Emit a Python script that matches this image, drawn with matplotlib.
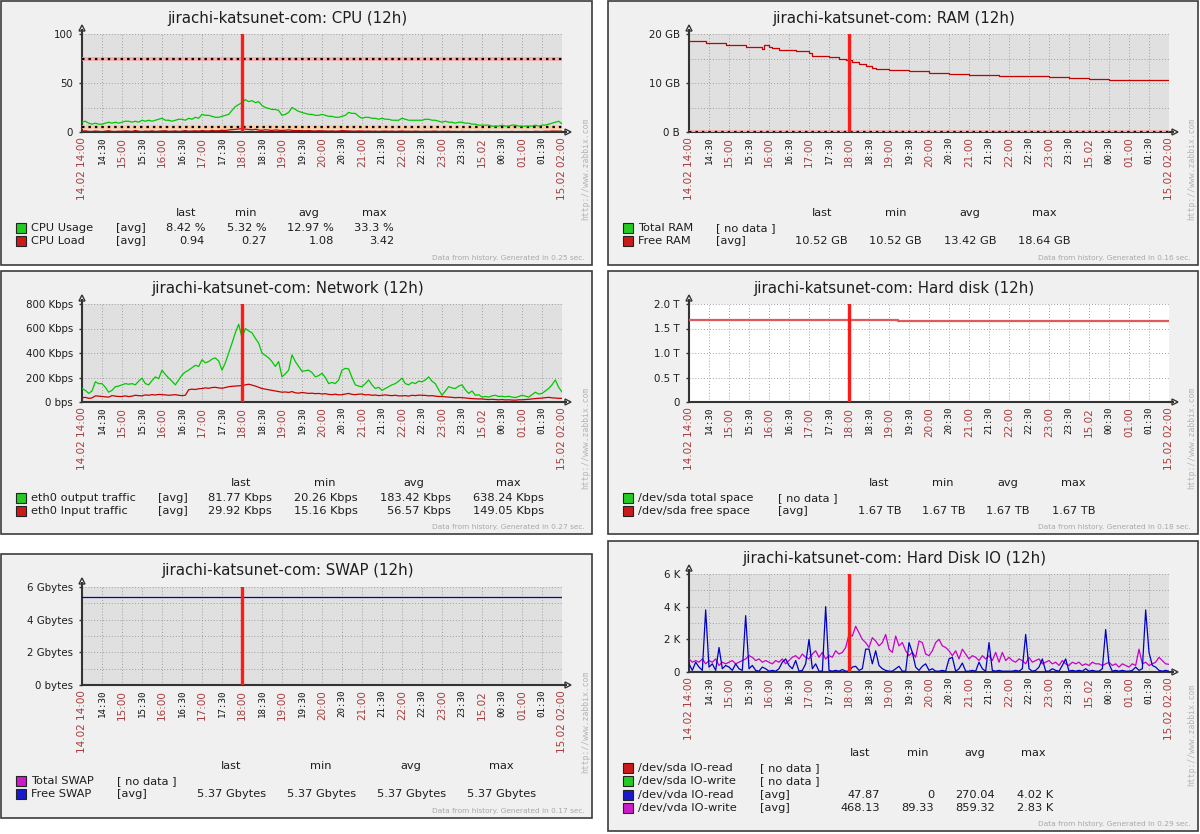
import numpy as np
import matplotlib
matplotlib.use("Agg")
import matplotlib.pyplot as plt
from matplotlib.patches import Rectangle, Polygon

W, H = 1200, 834
HOST = "jirachi-katsunet-com"

# ---------------- data ----------------
tick_labels = ["14.02 14:00", "14:30", "15:00", "15:30", "16:00", "16:30", "17:00", "17:30",
               "18:00", "18:30", "19:00", "19:30", "20:00", "20:30", "21:00", "21:30",
               "22:00", "22:30", "23:00", "23:30", "15.02", "00:30", "01:00", "01:30",
               "15.02 02:00"]
marker_time = "18:00"

# CPU (5-minute samples, 14:00 -> 02:00)
cpu_usage = [10, 11, 9, 8, 9, 8, 8, 9, 10, 9, 10, 9,
             10, 11, 11, 10, 11, 10, 12, 11, 12, 11, 12, 13,
             14, 12, 12, 11, 12, 13, 13, 12, 14, 13, 15, 14,
             18, 17, 17, 16, 15, 15, 16, 17, 18, 22, 26, 28,
             30, 33, 31, 32, 30, 31, 27, 25, 24, 23, 23, 22,
             17, 18, 20, 25, 23, 21, 20, 19, 18, 18, 17, 17,
             18, 17, 16, 16, 15, 15, 16, 17, 20, 19, 19, 16,
             14, 15, 15, 14, 14, 13, 14, 13, 13, 12, 12, 12,
             14, 13, 12, 12, 12, 12, 12, 13, 13, 12, 12, 11,
             10, 11, 10, 10, 9, 10, 10, 9, 9, 8, 8, 7,
             7, 7, 7, 6, 6, 6, 7, 6, 6, 7, 7, 6,
             6, 6, 6, 6, 7, 6, 7, 7, 8, 9, 10, 11,
             8.42]
cpu_load = [0.8, 1.2, 0.6, 0.5, 1.0, 0.7, 0.4, 0.9, 1.3, 0.6, 0.5, 0.8,
            0.7, 1.1, 0.9, 0.6, 1.5, 0.8, 0.5, 0.9, 0.7, 1.2, 0.6, 0.8,
            0.9, 1.3, 0.7, 0.8, 1.1, 0.6, 0.9, 1.4, 0.8, 1.0, 1.2, 0.9,
            1.4, 1.1, 1.0, 1.6, 1.2, 1.3, 1.8, 1.5, 2.1, 2.4, 2.6, 3.0,
            3.42, 2.9, 2.5, 2.2, 2.8, 2.0, 1.7, 2.3, 1.9, 1.6, 2.1, 1.8,
            1.5, 1.9, 2.2, 1.7, 1.4, 1.6, 1.3, 1.2, 1.5, 1.1, 1.0, 1.3,
            1.2, 1.0, 0.9, 1.1, 0.8, 1.0, 1.4, 1.2, 1.0, 0.9, 0.8, 1.1,
            0.9, 0.8, 1.0, 0.7, 0.9, 0.6, 0.8, 1.0, 0.7, 0.9, 0.6, 0.8,
            1.0, 0.7, 0.8, 0.6, 0.9, 0.7, 0.5, 0.8, 0.6, 0.7, 0.9, 0.5,
            0.7, 0.6, 0.8, 0.5, 0.6, 0.4, 0.7, 0.5, 0.6, 0.4, 0.5, 0.6,
            0.5, 0.4, 0.6, 0.3, 0.5, 0.4, 0.27, 0.5, 0.4, 0.6, 0.3, 0.5,
            0.4, 0.6, 0.5, 0.3, 0.7, 0.5, 0.4, 0.8, 0.6, 1.0, 0.9, 0.8,
            0.94]
cpu_triggers = [74, 5]

# RAM (GB, step changes)
ram_times = ["14:00", "14:25", "14:55", "15:25", "15:50", "15:53", "16:00", "16:05", "16:15",
             "16:40", "17:00", "17:05", "17:30", "17:45", "17:55", "18:05", "18:15", "18:25",
             "18:35", "18:40", "19:00", "19:30", "20:00", "20:30", "21:00", "21:45", "22:30",
             "23:00", "23:30", "00:00", "00:30", "01:15", "02:00"]
ram_free = [18.64, 18.21, 17.78, 17.34, 17.02, 17.67, 17.40, 17.13, 16.69,
            16.48, 16.15, 15.50, 15.29, 14.96, 14.70, 14.35, 13.88, 13.50,
            13.15, 12.90, 12.69, 12.47, 12.14, 11.93, 11.71, 11.49, 11.39,
            11.17, 10.95, 10.84, 10.63, 10.52, 10.52]

# Network (Kbps, 5-minute samples)
net_out = [110, 95, 70, 90, 165, 150, 150, 120, 80, 95, 125, 130,
           140, 150, 145, 150, 140, 170, 195, 150, 140, 175, 205, 190,
           260, 225, 195, 170, 140, 180, 220, 245, 260, 280, 300, 290,
           345, 320, 330, 350, 360, 335, 260, 320, 400, 480, 565, 635,
           525, 600, 580, 565, 520, 480, 400, 380, 360, 330, 290, 330,
           205, 230, 260, 385, 330, 290, 250, 255, 260, 240, 205, 215,
           235, 200, 150, 160, 150, 180, 260, 275, 270, 200, 140, 130,
           125, 150, 180, 140, 110, 120, 95, 110, 125, 140, 150, 170,
           195, 150, 140, 160, 150, 170, 165, 180, 205, 170, 150, 100,
           55, 90, 125, 115, 110, 130, 140, 100, 70, 90, 55, 60,
           40, 45, 40, 50, 55, 45, 47, 42, 47, 40, 36, 45,
           55, 48, 40, 60, 80, 65, 70, 90, 110, 140, 180, 120,
           82]
net_in = [35, 38, 30, 33, 50, 48, 45, 42, 40, 52, 48, 45,
          45, 50, 44, 48, 55, 52, 50, 58, 55, 60, 57, 62,
          60, 58, 55, 57, 60, 55, 52, 55, 100, 105, 102, 108,
          110, 115, 112, 118, 120, 115, 112, 118, 125, 128, 130, 132,
          135, 140, 145, 138, 130, 120, 110, 105, 100, 95, 90, 85,
          80, 82, 78, 85, 75, 72, 78, 74, 70, 72, 68, 70,
          65, 68, 62, 60, 64, 58, 60, 65, 70, 62, 60, 64,
          65, 58, 60, 55, 57, 52, 55, 58, 54, 52, 55, 50,
          50, 52, 48, 55, 52, 56, 55, 54, 50, 52, 48, 45,
          45, 42, 40, 38, 35, 37, 35, 33, 30, 28, 26, 25,
          25, 22, 20, 22, 20, 18, 20, 17, 18, 16, 15, 18,
          18, 20, 22, 25, 28, 30, 32, 35, 38, 34, 32, 30,
          30]

# Hard disk free space (T)
disk_times = ["14:00", "19:13", "02:00"]
disk_free = [1.675, 1.66, 1.66]

# SWAP free (Gbytes)
swap_times = ["14:00", "02:00"]
swap_free = [5.37, 5.37]

# Disk IO (K, 5-minute samples)
io_read = [0.5, 0.1, 0.6, 0.3, 0.1, 3.8, 0.3, 0.5, 0.1, 1.5, 0.2, 0.4,
           0.3, 0.1, 0.5, 0.2, 0.1, 3.45, 0.2, 0.4, 0.1, 0.05, 0.3, 0.2,
           0.05, 0.1, 0.05, 0.2, 0.6, 0.8, 0.4, 0.2, 0.7, 0.05, 0.1, 0.5,
           2.0, 0.2, 0.5, 0.05, 0.05, 4.0, 0.1, 0.05, 0.1, 0.05, 0.15, 0.05,
           0.05, 0.3, 0.35, 0.1, 0.2, 1.4, 1.4, 0.5, 1.3, 0.4, 0.2, 0.1,
           0.05, 0.05, 0.2, 0.35, 0.05, 0.05, 1.8, 1.2, 0.3, 0.1, 0.35, 0.5,
           0.1, 0.2, 0.05, 0.05, 0.1, 0.05, 0.8, 0.9, 0.05, 0.2, 0.55, 0.05,
           0.05, 0.1, 0.05, 0.6, 0.2, 0.05, 1.8, 0.1, 0.05, 0.1, 0.05, 0.05,
           0.05, 0.05, 0.1, 0.05, 0.2, 2.3, 0.2, 0.05, 0.1, 0.3, 0.8, 0.05,
           0.05, 0.2, 0.1, 0.05, 0.4, 0.8, 0.05, 0.1, 0.05, 0.1, 0.05, 0.2,
           0.05, 0.1, 0.05, 0.05, 0.2, 2.6, 0.5, 0.05, 0.1, 0.05, 0.1, 0.05,
           0.05, 0.1, 0.3, 0.1, 0.2, 3.8, 1.2, 0.4, 0.3, 0.1, 0.05, 0.1,
           0.05]
io_write = [0.8, 0.6, 0.7, 0.6, 0.8, 0.5, 0.7, 0.6, 0.8, 0.4, 0.6, 0.5,
            0.6, 0.7, 0.5, 0.6, 0.7, 0.8, 1.0, 0.9, 0.7, 0.8, 0.6, 0.7,
            0.6, 0.5, 0.7, 0.6, 0.8, 0.5, 0.7, 0.9, 1.0, 0.8, 1.1, 0.9,
            0.8, 1.1, 1.3, 0.9, 1.2, 0.8, 1.0, 0.9, 1.3, 1.1, 1.2, 1.5,
            2.3, 2.2, 2.8, 2.4, 2.0, 1.8, 1.5, 2.1, 1.9, 1.6, 1.8, 2.3,
            1.4, 1.2, 2.2, 1.6, 1.8, 1.3, 1.0, 1.2, 0.9, 1.9, 1.8, 1.1,
            1.0, 1.3, 1.8, 2.0, 1.6, 1.5, 1.3, 1.0, 1.3, 0.8, 1.4, 1.1,
            0.8, 1.0, 0.9, 0.7, 1.0, 0.8, 1.0, 0.7, 1.2, 0.6, 1.2, 0.7,
            0.9, 0.7, 0.6, 0.8, 0.7, 0.5, 0.9, 0.6, 0.7, 0.8, 0.5, 0.6,
            0.7, 0.5, 0.6, 0.4, 0.7, 0.5, 0.4, 0.6, 0.5, 0.6, 0.4, 0.5,
            0.4, 0.6, 0.5, 0.5, 0.4, 0.5, 0.6, 0.4, 0.5, 0.3, 0.5, 0.4,
            0.3, 0.5, 0.4, 1.4, 0.5, 0.6, 0.4, 0.5, 0.6, 0.9, 0.7, 0.5,
            0.47]

# ---------------- styling ----------------
GREEN, RED, BLUE, MAGENTA = "#00c800", "#c80000", "#0000c8", "#c800c8"
SQ_GREEN, SQ_RED, SQ_BLUE, SQ_MAG = "#22cc22", "#cc1a1a", "#1a1acc", "#cc1acc"
HOUR_RED = "#a83c3c"
TXT = "#1e1e1e"
PLOT_BG = "#e0e0e0"
PANEL_BG = "#f0f0f0"


def hours(hhmm):
    hh, mm = hhmm.split(":")
    return (int(hh) - 14) % 24 + int(mm) / 60.0


def five_min(series):
    return np.arange(len(series)) / 12.0


fig = plt.figure(figsize=(W / 100, H / 100), dpi=100)
fig.patch.set_facecolor("white")
ov = fig.add_axes([0, 0, 1, 1])
ov.set_xlim(0, W)
ov.set_ylim(H, 0)
ov.axis("off")
ov.set_zorder(0)


def panel(l, t, r, b, title, gen):
    ov.add_patch(Rectangle((l, t), r - l, b - t, facecolor=PANEL_BG,
                           edgecolor="#3c3c3c", lw=1.2))
    ov.text((l + r) / 2 - 9, t + 17, f"{HOST}: {title} (12h)", ha="center", va="center",
            fontsize=10.8, color=TXT)
    ov.text(r - 7, b - 7, f"Data from history. Generated in {gen} sec.", ha="right",
            va="center", fontsize=5.3, color="#a8a8a8")
    ov.text(r - 6, b - 45, "http://www.zabbix.com", rotation=90, ha="center", va="bottom",
            fontsize=5.8, color="#b4b4b4", family="DejaVu Sans Mono")
    # plot axes
    px0, py0 = l + 81, t + 33
    ax = fig.add_axes([px0 / W, 1 - (py0 + 98) / H, 480 / W, 98 / H])
    ax.set_zorder(2)
    ax.set_xlim(0, 12)
    for s in ("top", "right"):
        ax.spines[s].set_visible(False)
    for s in ("left", "bottom"):
        ax.spines[s].set_color("#333333")
        ax.spines[s].set_linewidth(1.5)
    # axis arrows
    ov.plot([px0, px0], [py0, py0 - 4], color="#333333", lw=1.5)
    ov.add_patch(Polygon([(px0 - 3, py0 - 3), (px0 + 3, py0 - 3), (px0, py0 - 9)],
                         closed=True, facecolor="white", edgecolor="#333333", lw=1))
    ov.plot([px0 + 480, px0 + 484], [py0 + 98, py0 + 98], color="#333333", lw=1.5)
    ov.add_patch(Polygon([(px0 + 483, py0 + 95), (px0 + 483, py0 + 101), (px0 + 489, py0 + 98)],
                         closed=True, facecolor="white", edgecolor="#333333", lw=1))
    # x ticks
    ax.set_xticks(np.arange(len(tick_labels)) * 0.5)
    ax.set_xticklabels(tick_labels, rotation=90)
    ax.tick_params(axis="x", length=0, pad=3.5)
    for i, lbl in enumerate(ax.get_xticklabels()):
        if i % 2 == 0:
            lbl.set_color(HOUR_RED)
            lbl.set_fontsize(7.5)
            lbl.set_family("DejaVu Sans")
        else:
            lbl.set_color("#111111")
            lbl.set_fontsize(6.6)
            lbl.set_family("DejaVu Sans Mono")
    ax.axvline(hours(marker_time), color="#ff1a1a", lw=2.4, zorder=5)
    return ax


def yaxis(ax, major, labels, minor, top, bg=PLOT_BG):
    ax.set_facecolor(bg)
    ax.set_ylim(0, top)
    ax.set_yticks(major)
    ax.set_yticklabels(labels)
    ax.set_yticks(minor, minor=True)
    ax.tick_params(axis="y", which="major", length=2.5, width=1, color="#333333",
                   pad=4, labelsize=7.4, labelcolor=TXT)
    ax.tick_params(axis="y", which="minor", length=0)
    ax.grid(True, which="both", color="#a0a0a0", linestyle=(0, (1, 2)), lw=0.7)
    ax.set_axisbelow(True)


def trigger(ax, y, color):
    ax.axhline(y, color=color, lw=2.6, zorder=3)
    ax.axhline(y, color="black", lw=1.6, dashes=(1.1, 1.8), zorder=3)


def legend(l, t, heads, rights, tag_x, rows, row0=227, step=13.3):
    for name, hx in zip(["last", "min", "avg", "max"], heads):
        ov.text(hx, t + 212, name, ha="center", va="center", fontsize=8.2, color=TXT)
    for i, (col, name, tag, vals) in enumerate(rows):
        y = t + row0 + i * step
        ov.add_patch(Rectangle((l + 15, y - 5), 10, 10, facecolor=col,
                               edgecolor="#222222", lw=0.8))
        ov.text(l + 30, y, name, ha="left", va="center", fontsize=8.2, color=TXT)
        ov.text(tag_x, y, tag, ha="left", va="center", fontsize=8.2, color=TXT)
        if vals:
            for v, rx in zip(vals, rights):
                ov.text(rx, y, v, ha="right", va="center", fontsize=8.2, color=TXT)


# ---- CPU ----
ax = panel(1, 1, 592, 265, "CPU", "0.25")
yaxis(ax, [0, 50, 100], ["0", "50", "100"], [25, 75], 100)
trigger(ax, cpu_triggers[0], "#ffa8a8")
trigger(ax, cpu_triggers[1], "#ffcc99")
ax.plot(five_min(cpu_usage), cpu_usage, color=GREEN, lw=0.9, zorder=4)
ax.plot(five_min(cpu_load), cpu_load, color=RED, lw=0.9, zorder=4)
legend(1, 1, [186, 246, 309, 374], [205, 267, 334, 394], 116,
       [(SQ_GREEN, "CPU Usage", "[avg]", ["8.42 %", "5.32 %", "12.97 %", "33.3 %"]),
        (SQ_RED, "CPU Load", "[avg]", ["0.94", "0.27", "1.08", "3.42"])])

# ---- RAM ----
ax = panel(608, 1, 1198, 265, "RAM", "0.16")
yaxis(ax, [0, 10, 20], ["0 B", "10 GB", "20 GB"], [5, 15], 20)
trigger(ax, 0, "#ffa8a8")
ax.plot([hours(s) for s in ram_times], ram_free, color=RED, lw=0.9,
        drawstyle="steps-post", zorder=4)
legend(608, 1, [822, 896, 970, 1044], [848, 922, 996, 1070], 716,
       [(SQ_GREEN, "Total RAM", "[ no data ]", None),
        (SQ_RED, "Free RAM", "[avg]", ["10.52 GB", "10.52 GB", "13.42 GB", "18.64 GB"])])

# ---- Network ----
ax = panel(1, 271, 592, 534, "Network", "0.27")
yaxis(ax, [0, 200, 400, 600, 800],
      ["0 bps", "200 Kbps", "400 Kbps", "600 Kbps", "800 Kbps"], [], 800)
ax.plot(five_min(net_out), net_out, color=GREEN, lw=0.9, zorder=4)
ax.plot(five_min(net_in), net_in, color=RED, lw=0.9, zorder=4)
legend(1, 271, [241, 325, 414, 508], [272, 358, 451, 544], 158,
       [(SQ_GREEN, "eth0 output traffic", "[avg]",
         ["81.77 Kbps", "20.26 Kbps", "183.42 Kbps", "638.24 Kbps"]),
        (SQ_RED, "eth0 Input traffic", "[avg]",
         ["29.92 Kbps", "15.16 Kbps", "56.57 Kbps", "149.05 Kbps"])])

# ---- Hard disk ----
ax = panel(608, 271, 1198, 534, "Hard disk", "0.18")
yaxis(ax, [0, 0.5, 1.0, 1.5, 2.0], ["0", "0.5 T", "1.0 T", "1.5 T", "2.0 T"], [], 2.0,
      bg="white")
ax.plot([hours(s) for s in disk_times], disk_free, color="#e05a5a", lw=1.6,
        drawstyle="steps-post", zorder=4)
legend(608, 271, [879, 943, 1008, 1073], [901, 966, 1030, 1095], 778,
       [(SQ_GREEN, "/dev/sda total space", "[ no data ]", None),
        (SQ_RED, "/dev/sda free space", "[avg]", ["1.67 TB", "1.67 TB", "1.67 TB", "1.67 TB"])])

# ---- SWAP ----
ax = panel(1, 554, 592, 818, "SWAP", "0.17")
yaxis(ax, [0, 2, 4, 6], ["0 bytes", "2 Gbytes", "4 Gbytes", "6 Gbytes"], [1, 3, 5], 6)
ax.plot([hours(s) for s in swap_times], swap_free, color=BLUE, lw=0.9, zorder=4)
legend(1, 554, [231, 321, 411, 501], [266, 356, 446, 536], 117,
       [(SQ_MAG, "Total SWAP", "[ no data ]", None),
        (SQ_BLUE, "Free SWAP", "[avg]",
         ["5.37 Gbytes", "5.37 Gbytes", "5.37 Gbytes", "5.37 Gbytes"])])

# ---- Hard Disk IO ----
ax = panel(608, 541, 1198, 831, "Hard Disk IO", "0.29")
yaxis(ax, [0, 2, 4, 6], ["0", "2 K", "4 K", "6 K"], [1, 3, 5], 6)
ax.plot(five_min(io_write), io_write, color=MAGENTA, lw=0.9, zorder=4)
ax.plot(five_min(io_read), io_read, color=BLUE, lw=0.9, zorder=4)
legend(608, 541, [860, 918, 975, 1033], [880, 934, 995, 1053], 760,
       [(SQ_RED, "/dev/sda IO-read", "[ no data ]", None),
        (SQ_GREEN, "/dev/sda IO-write", "[ no data ]", None),
        (SQ_BLUE, "/dev/vda IO-read", "[avg]", ["47.87", "0", "270.04", "4.02 K"]),
        (SQ_MAG, "/dev/vda IO-write", "[avg]", ["468.13", "89.33", "859.32", "2.83 K"])])

fig.savefig("out.png", dpi=100, facecolor="white")
